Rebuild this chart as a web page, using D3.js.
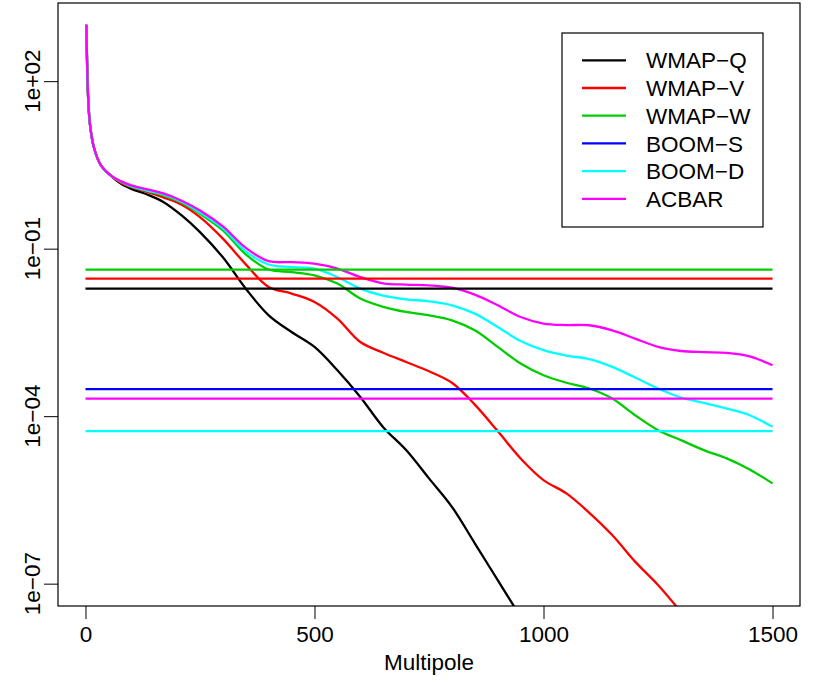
<!DOCTYPE html>
<html>
<head>
<meta charset="utf-8">
<script src="https://cdn.jsdelivr.net/npm/d3@7"></script>
<style>
  body { margin: 0; background: #fff; }
  svg text { font-family: "Liberation Sans", Arial, sans-serif; fill: #000; }
</style>
</head>
<body>
<svg id="chart"></svg>
<script>
const multipoles = [2, 5, 8, 12, 19, 33, 55, 77, 100, 135, 170, 210, 250,
  300, 350, 400, 450, 500, 550, 600, 650, 700, 750, 800, 850, 900, 950,
  1000, 1050, 1100, 1150, 1200, 1250, 1300, 1350, 1400, 1450, 1500];

// low-l part shared by every experiment
const lowL = [1028, 73.8, 24.3, 12.2, 6.22, 3.18, 2.05];

const wmapQ = lowL.concat([1.46, 1.18, 0.935, 0.687, 0.394, 0.198,
  0.0699, 0.0192, 0.00641, 0.00322, 0.00174, 0.000665, 0.000221, 6.35e-5,
  2.47e-5, 7.69e-6, 2.38e-6, 5.28e-7, 1.16e-7, 2.54e-8]);
const wmapV = lowL.concat([1.52, 1.26, 1.04, 0.828, 0.612, 0.367,
  0.151, 0.0524, 0.0206, 0.0157, 0.0111, 0.0056, 0.00213, 0.00137, 0.000935,
  0.000638, 0.000397, 0.000161, 5.4e-5, 1.75e-5, 7.16e-6, 4.14e-6, 1.86e-6,
  7.43e-7, 2.48e-7, 9.48e-8, 3.12e-8]);
const wmapW = lowL.concat([1.58, 1.29, 1.08, 0.897, 0.665, 0.423,
  0.212, 0.0791, 0.0423, 0.0381, 0.0333, 0.0237, 0.0128, 0.0091, 0.00735,
  0.00641, 0.00521, 0.00345, 0.00174, 0.000877, 0.000541, 0.000397, 0.000313,
  0.000207, 0.000104, 5.62e-5, 3.72e-5, 2.47e-5, 1.75e-5, 1.11e-5, 6.25e-6]);
const boomD = lowL.concat([1.60, 1.32, 1.10, 0.935, 0.693, 0.446,
  0.231, 0.0895, 0.052, 0.0469, 0.0439, 0.031, 0.0192, 0.0144, 0.0124,
  0.0114, 0.00968, 0.00687, 0.00396, 0.00222, 0.00152, 0.00122, 0.00105,
  0.000762, 0.000492, 0.000313, 0.000216, 0.000173, 0.000137, 0.000104, 6.44e-5]);
const acbar = lowL.concat([1.62, 1.36, 1.15, 0.975, 0.723, 0.484,
  0.251, 0.1033, 0.0597, 0.0575, 0.0539, 0.0439, 0.031, 0.0239, 0.0227,
  0.022, 0.02, 0.015, 0.00968, 0.00597, 0.00455, 0.00428, 0.00425,
  0.00345, 0.00245, 0.00174, 0.00147, 0.0014, 0.00136, 0.00118, 0.000817]);

const experiments = ['WMAP-Q', 'WMAP-V', 'WMAP-W', 'BOOM-S', 'BOOM-D', 'ACBAR'];
const colors = ['#000000', '#FF0000', '#00CD00', '#0000FF', '#00FFFF', '#FF00FF'];
const curves = [wmapQ, wmapV, wmapW, null, boomD, acbar];
// flat noise level of each experiment
const noiseLevels = [0.0192, 0.029, 0.0421, 3.04e-4, 5.39e-5, 2.07e-4];

const xTicks = [0, 500, 1000, 1500];
const yTicks = [1e2, 1e-1, 1e-4, 1e-7];
const yTickLabels = ['1e+02', '1e\u221201', '1e\u221204', '1e\u221207'];

const width = 830, height = 692;
const margin = {top: 3, right: 30, bottom: 86, left: 58};
const innerW = width - margin.left - margin.right;
const innerH = height - margin.top - margin.bottom;
const fontSize = '22.5px';

const svg = d3.select('#chart')
    .attr('width', width)
    .attr('height', height);

const chart = svg.append('g')
    .attr('transform', `translate(${margin.left},${margin.top})`);

// R style 4% padding of the axis ranges
const xScale = d3.scaleLinear()
    .domain([-60, 1560])
    .range([0, innerW]);
const yScale = d3.scaleLog()
    .domain([Math.pow(10, -7.4), Math.pow(10, 3.4)])
    .range([innerH, 0]);

chart.append('clipPath')
    .attr('id', 'plot-clip')
  .append('rect')
    .attr('width', innerW)
    .attr('height', innerH);

const plot = chart.append('g').attr('clip-path', 'url(#plot-clip)');

const line = d3.line()
    .x(d => xScale(d[0]))
    .y(d => yScale(d[1]))
    .curve(d3.curveCatmullRom.alpha(0.5));

experiments.forEach((name, i) => {
  if (curves[i]) {
    const pts = curves[i].map((v, j) => [multipoles[j], v]);
    plot.append('path')
        .attr('d', line(pts))
        .attr('fill', 'none')
        .attr('stroke', colors[i])
        .attr('stroke-width', 2.3)
        .attr('stroke-linejoin', 'round');
  }
});

experiments.forEach((name, i) => {
  plot.append('line')
      .attr('x1', xScale(0))
      .attr('x2', xScale(1500))
      .attr('y1', yScale(noiseLevels[i]))
      .attr('y2', yScale(noiseLevels[i]))
      .attr('stroke', colors[i])
      .attr('stroke-width', 2.3);
});

// axes
const xAxisG = chart.append('g')
    .attr('transform', `translate(0,${innerH})`)
    .call(d3.axisBottom(xScale).tickValues(xTicks).tickFormat(d3.format('d'))
      .tickSize(13).tickPadding(7))
    .call(g => g.select('.domain').remove());
xAxisG.selectAll('text').style('font-size', fontSize).attr('fill', '#000');
xAxisG.selectAll('line').attr('stroke', '#000');

const yAxisG = chart.append('g')
    .call(d3.axisLeft(yScale).tickValues(yTicks).tickSize(14).tickFormat(''))
    .call(g => g.select('.domain').remove());
yAxisG.selectAll('line').attr('stroke', '#000');

yAxisG.selectAll('.y-label')
    .data(yTicks)
  .join('text')
    .attr('class', 'y-label')
    .attr('transform', d => `translate(-18,${yScale(d)}) rotate(-90)`)
    .attr('text-anchor', 'middle')
    .style('font-size', fontSize)
    .text((d, i) => yTickLabels[i]);

chart.append('rect')
    .attr('width', innerW)
    .attr('height', innerH)
    .attr('fill', 'none')
    .attr('stroke', '#000')
    .attr('stroke-width', 1.2);

svg.append('text')
    .attr('x', margin.left + innerW / 2)
    .attr('y', 670)
    .attr('text-anchor', 'middle')
    .style('font-size', fontSize)
    .text('Multipole');

// legend
const legend = svg.append('g').attr('transform', 'translate(562,33)');
legend.append('rect')
    .attr('width', 201)
    .attr('height', 194)
    .attr('fill', '#fff')
    .attr('stroke', '#000')
    .attr('stroke-width', 1.2);

experiments.forEach((name, i) => {
  const y = 27.3 + i * 27.7;
  legend.append('line')
      .attr('x1', 20).attr('x2', 64)
      .attr('y1', y).attr('y2', y)
      .attr('stroke', colors[i])
      .attr('stroke-width', 2.3);
  legend.append('text')
      .attr('x', 84)
      .attr('y', y)
      .attr('dy', '0.36em')
      .style('font-size', fontSize)
      .text(name.replace('-', '\u2212'));
});
</script>
</body>
</html>
